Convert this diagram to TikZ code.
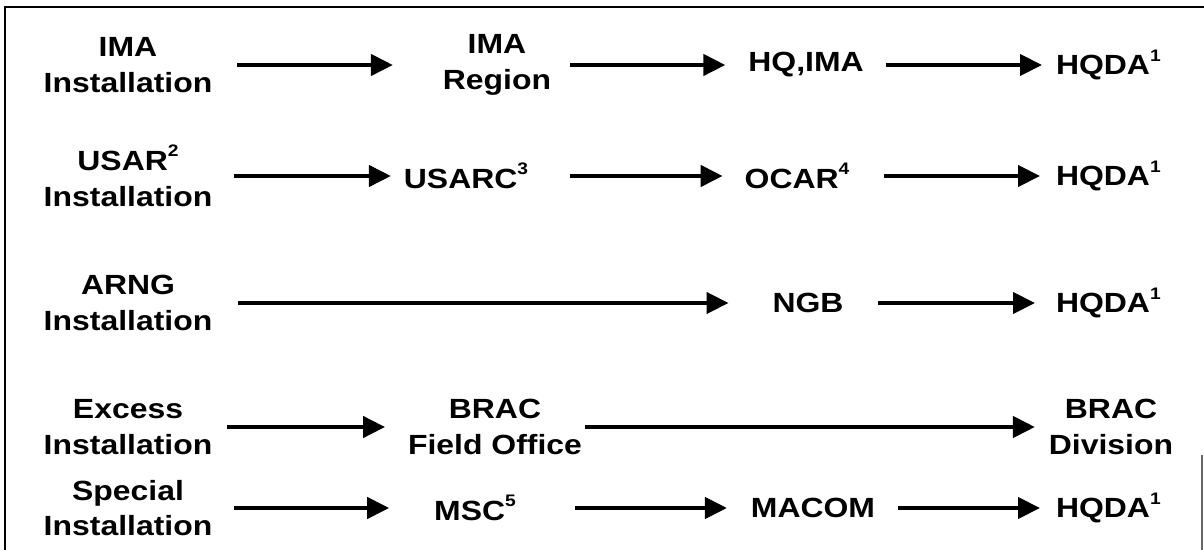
\documentclass[tikz,border=0pt]{standalone}
\usepackage{fontspec}
\setmainfont{Liberation Sans}[FakeStretch=1.15]
\usetikzlibrary{arrows.meta}
\newcommand{\fnmark}[1]{\raisebox{0.5em}{\fontsize{9.5}{9.5}\selectfont #1}}

\begin{document}
\begin{tikzpicture}[x=0.02cm,y=-0.02cm,
    lbl/.style={align=center,inner sep=0pt,outer sep=0pt,
        font=\fontsize{15.8}{20.4}\selectfont\bfseries},
    edge/.style = {-{Triangle[length=0.44cm,width=0.42cm]},line width=2.4pt}]

    \useasboundingbox (0,0) rectangle (1204,550);

    %--------------------------------------------
    % Frame
    \draw[line width=1.1pt] (1204,7) -- (5,7) -- (5,550);
    \draw[line width=0.6pt,black!60] (1202,455) -- (1202,550);

    %--------------------------------------------
    % Nodes
    \node[lbl] (imainst) at (128,65) {IMA\\Installation};
    \node[lbl] (imareg) at (497,65) {IMA\\Region};
    \node[lbl] (hqima) at (806,65) {HQ,IMA};
    \node[lbl,anchor=west] (hqdaA) at (1056,65) {HQDA\fnmark{1}};

    \node[lbl] (usarinst) at (128,176) {USAR\fnmark{2}\\Installation};
    \node[lbl] (usarc) at (466,176) {USARC\fnmark{3}};
    \node[lbl] (ocar) at (797,176) {OCAR\fnmark{4}};
    \node[lbl,anchor=west] (hqdaB) at (1056,176) {HQDA\fnmark{1}};

    \node[lbl] (arnginst) at (128,303) {ARNG\\Installation};
    \node[lbl] (ngb) at (808,303) {NGB};
    \node[lbl,anchor=west] (hqdaC) at (1056,303) {HQDA\fnmark{1}};

    \node[lbl] (excinst) at (128,427) {Excess\\Installation};
    \node[lbl] (bracfo) at (495,427) {BRAC\\Field Office};
    \node[lbl] (bracdiv) at (1111,427) {BRAC\\Division};

    \node[lbl] (specinst) at (128,508) {Special\\Installation};
    \node[lbl] (msc) at (475,508) {MSC\fnmark{5}};
    \node[lbl] (macom) at (813,508) {MACOM};
    \node[lbl,anchor=west] (hqdaD) at (1056,508) {HQDA\fnmark{1}};

    %--------------------------------------------
    % Edges
    \draw[edge, shorten <=0.5cm, shorten >=1cm] (imainst) -- (imareg);
    \draw[edge, shorten <=0.38cm, shorten >=0.46cm] (imareg) -- (hqima);
    \draw[edge, shorten <=0.44cm, shorten >=0.28cm] (hqima) -- (hqdaA);

    \draw[edge, shorten <=0.44cm, shorten >=0.26cm] (usarinst) -- (usarc);
    \draw[edge, shorten <=0.84cm, shorten >=0.44cm] (usarc) -- (ocar);
    \draw[edge, shorten <=0.7cm, shorten >=0.32cm] (ocar) -- (hqdaB);

    \draw[edge, shorten <=0.52cm, shorten >=0.88cm] (arnginst) -- (ngb);
    \draw[edge, shorten <=0.7cm, shorten >=0.42cm] (ngb) -- (hqdaC);

    \draw[edge, shorten <=0.3cm, shorten >=0.46cm] (excinst) -- (bracfo);
    \draw[edge, shorten <=0.06cm, shorten >=0.28cm] (bracfo) -- (bracdiv);

    \draw[edge, shorten <=0.44cm, shorten >=0.9cm] (specinst) -- (msc);
    \draw[edge, shorten <=1.18cm, shorten >=0.48cm] (msc) -- (macom);
    \draw[edge, shorten <=0.46cm, shorten >=0.32cm] (macom) -- (hqdaD);
\end{tikzpicture}
\end{document}
